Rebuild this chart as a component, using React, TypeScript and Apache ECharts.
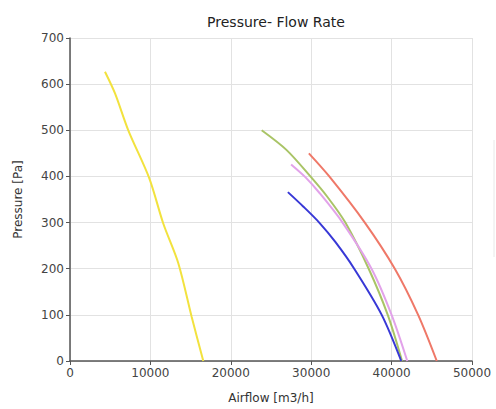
import React, { useEffect, useRef } from "react";
import * as echarts from "echarts";

const xTicks = [0, 10000, 20000, 30000, 40000, 50000];
const yTicks = [0, 100, 200, 300, 400, 500, 600, 700];

const yellowFlow = [4350, 5600, 7250, 9865, 11600, 13470, 15130, 16580];
const yellowPres = [627, 580, 500, 396, 298, 212, 96, 0];

const greenFlow = [23840, 26950, 29900, 32000, 34250, 37150, 39520, 41300];
const greenPres = [500, 457, 400, 356, 300, 200, 100, 0];

const pinkFlow = [27500, 29300, 31090, 33900, 37500, 40000, 41950];
const pinkPres = [426, 398, 363, 300, 200, 100, 0];

const blueFlow = [27100, 29000, 31000, 33000, 35350, 38770, 41200];
const bluePres = [366, 335, 300, 258, 200, 100, 0];

const redFlow = [29710, 32250, 36670, 40400, 43300, 45620];
const redPres = [450, 400, 300, 200, 100, 0];

const pair = (xs: number[], ys: number[]) => xs.map((x, i) => [x, ys[i]]);

export default function App() {
  const ref = useRef<HTMLDivElement>(null);
  useEffect(() => {
    if (!ref.current) return;
    const chart = echarts.init(ref.current, undefined, { renderer: "svg" });
    const font = "DejaVu Sans";
    const mk = (name: string, xs: number[], ys: number[], color: string) => ({
      name,
      type: "line",
      data: pair(xs, ys),
      smooth: 0.3,
      showSymbol: false,
      lineStyle: { color, width: 2 },
      itemStyle: { color },
    });
    chart.setOption({
      animation: false,
      backgroundColor: "#ffffff",
      title: {
        text: "Pressure- Flow Rate",
        left: 271,
        textAlign: "center",
        top: 10,
        textStyle: { fontFamily: font, fontSize: 14, fontWeight: "normal", color: "#222" },
      },
      grid: { left: 70, right: 24, top: 38, bottom: 48 },
      xAxis: {
        type: "value",
        min: xTicks[0],
        max: xTicks[xTicks.length - 1],
        interval: 10000,
        name: "Airflow [m3/h]",
        nameLocation: "middle",
        nameGap: 31,
        nameTextStyle: { fontFamily: font, fontSize: 12, color: "#333" },
        axisLine: { show: true, lineStyle: { color: "#555", width: 1.5 } },
        axisTick: { show: true, length: 4, lineStyle: { color: "#555" } },
        axisLabel: {
          fontFamily: font,
          fontSize: 12,
          color: "#444",
          margin: 6,
          formatter: (v: number) => String(v),
        },
        splitLine: { show: true, lineStyle: { color: "#e2e2e2" } },
      },
      yAxis: {
        type: "value",
        min: yTicks[0],
        max: yTicks[yTicks.length - 1],
        interval: 100,
        name: "Pressure [Pa]",
        nameLocation: "middle",
        nameGap: 46,
        nameRotate: 90,
        nameTextStyle: { fontFamily: font, fontSize: 12, color: "#333" },
        axisLine: { show: true, lineStyle: { color: "#555", width: 1.5 } },
        axisTick: { show: true, length: 4, lineStyle: { color: "#555" } },
        axisLabel: { fontFamily: font, fontSize: 12, color: "#444", margin: 6 },
        splitLine: { show: true, lineStyle: { color: "#e2e2e2" } },
      },
      graphic: [
        {
          type: "line",
          shape: { x1: 494, y1: 140, x2: 494, y2: 257 },
          style: { stroke: "#e8e8e8", lineWidth: 1 },
        },
      ],
      series: [
        mk("A", yellowFlow, yellowPres, "#f2e23e"),
        mk("B", greenFlow, greenPres, "#a9c466"),
        mk("C", pinkFlow, pinkPres, "#e2a2ea"),
        mk("D", blueFlow, bluePres, "#3838d6"),
        mk("E", redFlow, redPres, "#ef7868"),
      ],
    });
    return () => chart.dispose();
  }, []);
  return <div ref={ref} style={{ width: 496, height: 409, position: "absolute", left: 0, top: 0 }} />;
}
